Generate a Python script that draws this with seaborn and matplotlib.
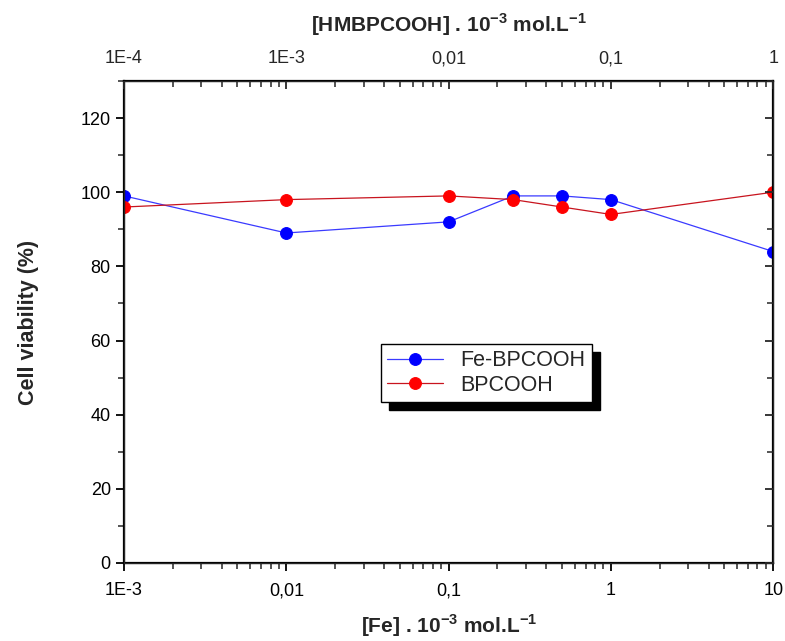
import numpy as np
import pandas as pd
import seaborn as sns
import matplotlib.pyplot as plt
from matplotlib.ticker import LogLocator, NullFormatter, MultipleLocator

# data
fe_conc = [0.001, 0.01, 0.1, 0.25, 0.5, 1, 10]
fe_bpcooh = [99, 89, 92, 99, 99, 98, 84]
bpcooh = [96, 98, 99, 98, 96, 94, 100]

bottom_ticks = [0.001, 0.01, 0.1, 1, 10]
bottom_labels = ["1E-3", "0,01", "0,1", "1", "10"]
top_ticks = [1e-4, 1e-3, 0.01, 0.1, 1]
top_labels = ["1E-4", "1E-3", "0,01", "0,1", "1"]

sns.set_style("ticks")
plt.rcParams['font.family'] = ['Liberation Sans', 'DejaVu Sans']
plt.rcParams['mathtext.fontset'] = 'custom'
plt.rcParams['mathtext.rm'] = 'Liberation Sans'
plt.rcParams['mathtext.bf'] = 'Liberation Sans:bold'

df = pd.DataFrame({"conc": fe_conc * 2,
                   "viab": fe_bpcooh + bpcooh,
                   "series": ["Fe-BPCOOH"] * len(fe_conc) + ["BPCOOH"] * len(fe_conc)})

fig = plt.figure(figsize=(7.85, 6.41), dpi=100)
ax = fig.add_axes([0.158, 0.1217, 0.827, 0.752])

sns.lineplot(data=df[df.series == "Fe-BPCOOH"], x="conc", y="viab", ax=ax,
             color="#3a3aff", lw=0.9, marker="o", markersize=8.5,
             markerfacecolor="#0000ff", markeredgecolor="#0000ff", label="Fe-BPCOOH")
sns.lineplot(data=df[df.series == "BPCOOH"], x="conc", y="viab", ax=ax,
             color="#c8141e", lw=0.9, marker="o", markersize=8.5,
             markerfacecolor="#ff0000", markeredgecolor="#ff0000", label="BPCOOH")

ax.set_xscale("log")
ax.set_xlim(0.001, 10)
ax.set_ylim(0, 130)
ax.set_xticks(bottom_ticks)
ax.set_xticklabels(bottom_labels)
ax.xaxis.set_minor_locator(LogLocator(base=10, subs=np.arange(2, 10)))
ax.xaxis.set_minor_formatter(NullFormatter())
ax.set_yticks([0, 20, 40, 60, 80, 100, 120])
ax.yaxis.set_minor_locator(MultipleLocator(10))

for s in ax.spines.values():
    s.set_linewidth(1.6)
    s.set_color("black")
ax.tick_params(axis="both", which="major", direction="out", length=6, width=1.3,
               labelsize=13, colors="black")
ax.tick_params(axis="both", which="minor", direction="out", length=4, width=1.1)
ax.tick_params(axis="x", pad=8)

ax.set_xlabel(r"[Fe] . 10$^{\mathbf{-3}}$ mol.L$^{\mathbf{-1}}$", fontsize=15,
              fontweight="bold", labelpad=9)
ax.set_ylabel("Cell viability (%)", fontsize=15.5, fontweight="bold", labelpad=30)

# right side inward ticks
axr = ax.twinx()
axr.set_ylim(0, 130)
axr.set_yticks([0, 20, 40, 60, 80, 100, 120])
axr.yaxis.set_minor_locator(MultipleLocator(10))
axr.tick_params(axis="y", which="major", direction="in", length=6, width=1.3, labelright=False)
axr.tick_params(axis="y", which="minor", direction="in", length=4, width=1.1)

# top axis
axt = ax.twiny()
axt.set_xscale("log")
axt.set_xlim(1e-4, 1)
axt.set_xticks(top_ticks)
axt.set_xticklabels(top_labels)
axt.xaxis.set_minor_locator(LogLocator(base=10, subs=np.arange(2, 10)))
axt.xaxis.set_minor_formatter(NullFormatter())
axt.tick_params(axis="x", which="major", direction="in", length=6, width=1.3,
                labelsize=13, pad=10)
axt.tick_params(axis="x", which="minor", direction="in", length=4, width=1.1)
axt.set_xlabel(r"[HMBPCOOH] . 10$^{\mathbf{-3}}$ mol.L$^{\mathbf{-1}}$", fontsize=15,
               fontweight="bold", labelpad=13)

leg = ax.legend(loc="center", bbox_to_anchor=(0.558, 0.394), fontsize=15.5,
                frameon=True, fancybox=False, edgecolor="black",
                shadow={"color": "black", "alpha": 1, "ox": 6, "oy": -6},
                handlelength=2.6, borderpad=0.3, labelspacing=0.15)
leg.get_frame().set_linewidth(1.0)
leg.set_zorder(10)

fig.savefig("out.png", dpi=100, facecolor="white")
